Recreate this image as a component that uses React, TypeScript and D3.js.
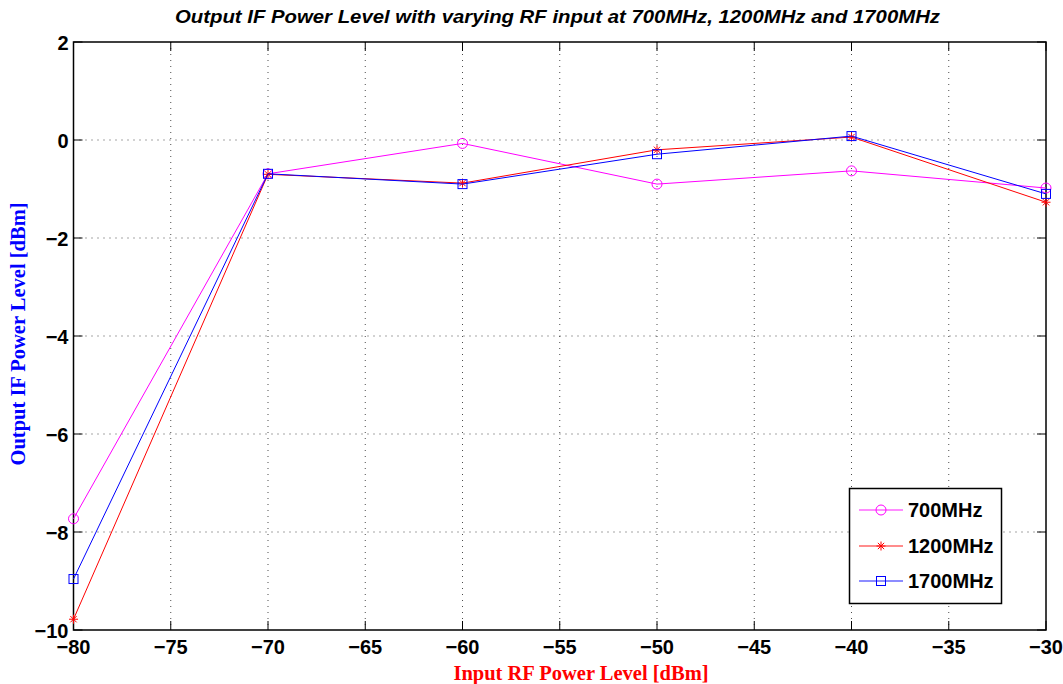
import React from "react";
import * as d3 from "d3";

const inputLevels = [-80, -70, -60, -50, -40, -30];
const series700 = [-7.73, -0.69, -0.07, -0.9, -0.63, -0.98];
const series1200 = [-9.78, -0.7, -0.88, -0.2, 0.06, -1.27];
const series1700 = [-8.96, -0.69, -0.9, -0.29, 0.08, -1.1];
const xTicks = [-80, -75, -70, -65, -60, -55, -50, -45, -40, -35, -30];
const yTicks = [2, 0, -2, -4, -6, -8, -10];

const seriesList = [
  { name: "700MHz", values: series700, color: "#ff00ff", marker: "circle" },
  { name: "1200MHz", values: series1200, color: "#ff0000", marker: "star" },
  { name: "1700MHz", values: series1700, color: "#0000ff", marker: "square" },
];

const W = 1063;
const H = 684;
const left = 73.5;
const right = 1046;
const top = 42;
const bottom = 630;

function Marker({ kind, x, y, color }: { kind: string; x: number; y: number; color: string }) {
  if (kind === "circle") return <circle cx={x} cy={y} r={5} fill="none" stroke={color} strokeWidth={1} />;
  if (kind === "square") return <rect x={x - 4.5} y={y - 4.5} width={9} height={9} fill="none" stroke={color} strokeWidth={1} />;
  const s = 4.5;
  return (
    <g stroke={color} strokeWidth={1}>
      <line x1={x - s} y1={y} x2={x + s} y2={y} />
      <line x1={x} y1={y - s} x2={x} y2={y + s} />
      <line x1={x - s * 0.7} y1={y - s * 0.7} x2={x + s * 0.7} y2={y + s * 0.7} />
      <line x1={x - s * 0.7} y1={y + s * 0.7} x2={x + s * 0.7} y2={y - s * 0.7} />
    </g>
  );
}

export default function App() {
  const x = d3.scaleLinear().domain([-80, -30]).range([left, right]);
  const y = d3.scaleLinear().domain([-10, 2]).range([bottom, top]);
  const line = d3
    .line<number>()
    .x((_, i) => x(inputLevels[i]))
    .y((d) => y(d));

  const tickFont = "'Liberation Sans', Arial, sans-serif";
  const serif = "'Liberation Serif', 'Times New Roman', serif";
  const legendX = 849.5;
  const legendY = 488.5;
  const rowY = [510, 546, 581];
  const fmt = (t: number) => (t < 0 ? "\u2212" + Math.abs(t) : String(t));

  return (
    <svg width={W} height={H} style={{ position: "absolute", left: 0, top: 0, background: "#fff" }}>
      <rect x={0} y={0} width={W} height={H} fill="#fff" />
      {/* grid */}
      {xTicks.slice(1, -1).map((t) => (
        <line key={"gx" + t} x1={x(t)} x2={x(t)} y1={top} y2={bottom} stroke="#000" strokeWidth={1} strokeDasharray="1 5" opacity={0.7} />
      ))}
      {yTicks.slice(1, -1).map((t) => (
        <line key={"gy" + t} x1={left} x2={right} y1={y(t)} y2={y(t)} stroke="#000" strokeWidth={1} strokeDasharray="1 5" opacity={0.7} />
      ))}
      {/* ticks */}
      {xTicks.map((t) => (
        <g key={"tx" + t} stroke="#000" strokeWidth={1}>
          <line x1={x(t)} x2={x(t)} y1={bottom} y2={bottom - 9} />
          <line x1={x(t)} x2={x(t)} y1={top} y2={top + 9} />
        </g>
      ))}
      {yTicks.map((t) => (
        <g key={"ty" + t} stroke="#000" strokeWidth={1}>
          <line x1={left} x2={left + 9} y1={y(t)} y2={y(t)} />
          <line x1={right} x2={right - 9} y1={y(t)} y2={y(t)} />
        </g>
      ))}
      <rect x={left} y={top} width={right - left} height={bottom - top} fill="none" stroke="#000" strokeWidth={1.5} />
      {/* tick labels */}
      {xTicks.map((t) => (
        <text key={"lx" + t} x={x(t)} y={654} textAnchor="middle" fontFamily={tickFont} fontWeight="bold" fontSize={20}>
          {fmt(t)}
        </text>
      ))}
      {yTicks.map((t) => (
        <text key={"ly" + t} x={left - 5} y={y(t) + 7.5} textAnchor="end" fontFamily={tickFont} fontWeight="bold" fontSize={20}>
          {fmt(t)}
        </text>
      ))}
      {/* series */}
      {seriesList.map((s) => (
        <g key={s.name}>
          <path d={line(s.values) || ""} fill="none" stroke={s.color} strokeWidth={1} />
          {s.values.map((v, i) => (
            <Marker key={i} kind={s.marker} x={x(inputLevels[i])} y={y(v)} color={s.color} />
          ))}
        </g>
      ))}
      {/* title */}
      <text x={557.5} y={23} textAnchor="middle" fontFamily={tickFont} fontWeight="bold" fontStyle="italic" fontSize={18} textLength={765} lengthAdjust="spacingAndGlyphs">
        Output IF Power Level with varying RF input at 700MHz, 1200MHz and 1700MHz
      </text>
      {/* axis labels */}
      <text x={581} y={680} textAnchor="middle" fontFamily={serif} fontWeight="bold" fontSize={20.5} fill="#ff0000">
        Input RF Power Level [dBm]
      </text>
      <text transform={`translate(25, 334) rotate(-90)`} textAnchor="middle" fontFamily={serif} fontWeight="bold" fontSize={20.5} fill="#0000ff">
        Output IF Power Level [dBm]
      </text>
      {/* legend */}
      <rect x={legendX} y={legendY} width={152} height={115} fill="#fff" stroke="#000" strokeWidth={1.5} />
      {seriesList.map((s, i) => (
        <g key={"lg" + s.name}>
          <line x1={859} x2={903} y1={rowY[i]} y2={rowY[i]} stroke={s.color} strokeWidth={1.5} opacity={0.6} />
          <Marker kind={s.marker} x={881} y={rowY[i]} color={s.color} />
          <text x={908} y={rowY[i] + 7} fontFamily={tickFont} fontWeight="bold" fontSize={20}>
            {s.name}
          </text>
        </g>
      ))}
    </svg>
  );
}
